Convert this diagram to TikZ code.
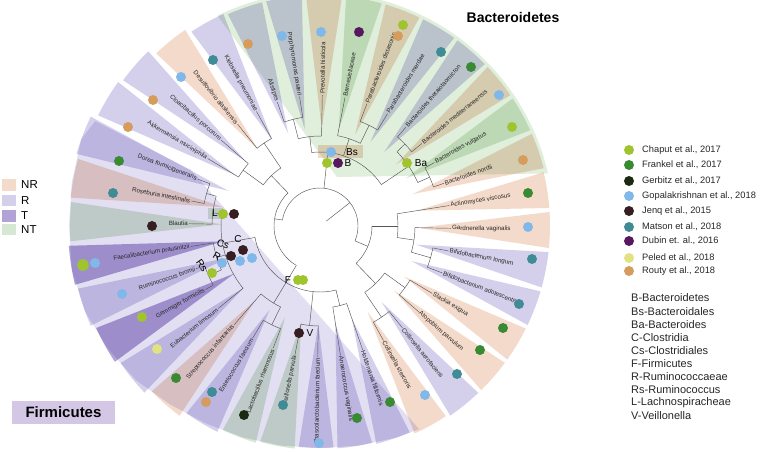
\documentclass[tikz,border=0pt]{standalone}
\usepackage{fontspec}
\setmainfont{Liberation Sans}
\definecolor{nrC}{RGB}{243,218,203}
\definecolor{rC}{RGB}{212,208,236}
\definecolor{tC}{RGB}{178,163,214}
\definecolor{ntC}{RGB}{215,232,210}
\definecolor{bgG}{RGB}{224,238,220}
\definecolor{bgF}{RGB}{226,223,242}
\definecolor{cChaput}{RGB}{160,196,45}
\definecolor{cFrankel}{RGB}{58,138,52}
\definecolor{cGerbitz}{RGB}{28,42,20}
\definecolor{cGopal}{RGB}{128,184,234}
\definecolor{cJenq}{RGB}{55,30,34}
\definecolor{cMatson}{RGB}{64,140,150}
\definecolor{cDubin}{RGB}{88,24,96}
\definecolor{cPeled}{RGB}{226,226,130}
\definecolor{cRouty}{RGB}{214,156,94}
\definecolor{firmbox}{RGB}{212,199,230}
\definecolor{treeC}{RGB}{85,85,85}
\tikzset{
  br/.style={draw=treeC, line width=0.45pt},
  lbl/.style={font=\fontsize{6.2}{7}\selectfont, text=black!85, inner sep=0pt},
  nlab/.style={font=\fontsize{10}{11}\selectfont, inner sep=0pt},
  legt/.style={font=\fontsize{9.3}{10}\selectfont, anchor=west, inner sep=0pt, text=black!85},
  abbr/.style={font=\fontsize{11}{12}\selectfont, anchor=west, inner sep=0pt, text=black!85},
}
\newcommand{\wdg}[3]{\fill[#1] (#2:98) -- ({#2-4.5}:#3) arc[start angle={#2-4.5}, end angle={#2+4.5}, radius=#3pt] -- cycle;}
\newcommand{\leafR}[4]{\draw[br] (#1:#2) -- (#1:131); \node[lbl,anchor=west,rotate=#1] (#4) at (#1:132) {#3};}
\newcommand{\leafL}[4]{\draw[br] (#1:#2) -- (#1:131); \node[lbl,anchor=east,rotate=#1-180] (#4) at (#1:132) {#3};}
\newcommand{\dt}[2]{\fill[#1] (#2) circle[radius=5pt];}
\begin{document}
\begin{tikzpicture}[x=1pt,y=1pt]
\clip (0,0) rectangle (762,451);
\useasboundingbox (0,0) rectangle (762,451);
\begin{scope}[shift={(320,225)}]
  % backgrounds and wedges
  \begin{scope}[blend mode=multiply]
    \fill[bgG] (17,49) -- (116:234) arc[start angle=116, end angle=13, radius=234pt] -- cycle;
    \fill[bgF] (-129,56) -- (155:248) -- (160:254) -- (170:252) -- (180:251) -- (190:252) -- (200:250)
      -- (210:245) -- (220:240) -- (230:233) -- (240:228) -- (250:225) -- (260:223) -- (270:222)
      -- (280:223) -- (290:225) -- (296:226) -- cycle;
    \wdg{nrC}{19}{231}
    \wdg{ntC}{29}{231}
    \wdg{nrC}{39}{231}
    \wdg{rC}{49}{231}
    \wdg{rC}{59}{231}
    \wdg{nrC}{69}{231}
    \wdg{ntC}{79}{231}
    \wdg{nrC}{89}{231}
    \wdg{rC}{99}{231}
    \wdg{rC}{109}{231}
    \wdg{rC}{119}{233}
    \wdg{nrC}{129}{238}
    \wdg{rC}{139}{245}
    \wdg{rC}{149}{248}
    \wdg{rC}{159}{254}
    \wdg{nrC}{169}{251}
    \wdg{ntC}{179}{250}
    \wdg{tC}{189}{252}
    \wdg{rC}{199}{250}
    \wdg{tC}{209}{246}
    \wdg{rC}{219}{242}
    \wdg{nrC}{229}{236}
    \wdg{rC}{239}{230}
    \wdg{ntC}{249}{226}
    \wdg{ntC}{259}{224}
    \wdg{rC}{269}{222}
    \wdg{rC}{279}{223}
    \wdg{rC}{289}{225}
    \wdg{nrC}{299}{228}
    \wdg{rC}{309}{230}
    \wdg{nrC}{319}{230}
    \wdg{nrC}{329}{230}
    \wdg{rC}{339}{230}
    \wdg{rC}{349}{230}
    \wdg{nrC}{359}{230}
    \wdg{nrC}{369}{230}
    \fill[nrC] (-2,68) rectangle (43,81);
    \fill[ntC] (-112,7) rectangle (-97,18);
  \end{scope}
  % tree
  \draw[br] (38:8) -- (38:38);
  \draw[br] (-23:38) arc[start angle=-23, end angle=171, radius=38pt];
  % Actinobacteria
  \draw[br] (-23:38) -- (-23:52);
  \draw[br] (-46:52) arc[start angle=-46, end angle=0, radius=52pt];
  \draw[br] (-46:52) -- (-46:80);
  \draw[br] (-56:80) arc[start angle=-56, end angle=-36, radius=80pt];
  \draw[br] (-56:80) -- (-56:110);
  \draw[br] (-61:110) arc[start angle=-61, end angle=-51, radius=110pt];
  \draw[br] (-36:80) -- (-36:105);
  \draw[br] (-41:105) arc[start angle=-41, end angle=-31, radius=105pt];
  \draw[br] (0:52) -- (0:78);
  \draw[br] (-8.5:78) arc[start angle=-8.5, end angle=9, radius=78pt];
  \draw[br] (-8.5:78) -- (-8.5:95);
  \draw[br] (-16:95) arc[start angle=-16, end angle=-1, radius=95pt];
  \draw[br] (-16:95) -- (-16:115);
  \draw[br] (-21:115) arc[start angle=-21, end angle=-11, radius=115pt];
  % Bacteroidetes
  \draw[br] (84:38) -- (84:74);
  \draw[br] (34:74) arc[start angle=34, end angle=96.5, radius=74pt];
  \draw[br] (34:74) -- (34:107);
  \draw[br] (24:107) arc[start angle=24, end angle=44, radius=107pt];
  \draw[br] (24:107) -- (24:120);
  \draw[br] (19:120) arc[start angle=19, end angle=29, radius=120pt];
  \draw[br] (44:107) -- (44:118);
  \draw[br] (39:118) arc[start angle=39, end angle=49, radius=118pt];
  \draw[br] (71.5:74) -- (71.5:92);
  \draw[br] (64:92) arc[start angle=64, end angle=79, radius=92pt];
  \draw[br] (64:92) -- (64:112);
  \draw[br] (59:112) arc[start angle=59, end angle=69, radius=112pt];
  \draw[br] (96.5:74) -- (96.5:90);
  \draw[br] (89:90) arc[start angle=89, end angle=104, radius=90pt];
  \draw[br] (104:90) -- (104:110);
  \draw[br] (99:110) arc[start angle=99, end angle=109, radius=110pt];
  % others
  \draw[br] (171:38) -- (171:46);
  \draw[br] (134:46) arc[start angle=134, end angle=239, radius=46pt];
  \draw[br] (134:46) -- (134:70);
  \draw[br] (124:70) arc[start angle=124, end angle=144, radius=70pt];
  \draw[br] (124:70) -- (124:100);
  \draw[br] (119:100) arc[start angle=119, end angle=129, radius=100pt];
  \draw[br] (144:70) -- (144:95);
  \draw[br] (139:95) arc[start angle=139, end angle=149, radius=95pt];
  % Firmicutes
  \draw[br] (239:46) -- (239:66);
  \draw[br] (190:66) arc[start angle=190, end angle=284, radius=66pt];
  \draw[br] (190:66) -- (190:99);
  \draw[br] (173:99) arc[start angle=173, end angle=219, radius=99pt];
  \draw[br] (173:99) -- (173:108);
  \draw[br] (164:108) arc[start angle=164, end angle=179, radius=108pt];
  \draw[br] (164:108) -- (164:118);
  \draw[br] (159:118) arc[start angle=159, end angle=169, radius=118pt];
  \draw[br] (197:99) -- (197:108);
  \draw[br] (189:108) arc[start angle=189, end angle=204, radius=108pt];
  \draw[br] (204:108) -- (204:122);
  \draw[br] (199:122) arc[start angle=199, end angle=209, radius=122pt];
  \draw[br] (239:66) -- (239:90);
  \draw[br] (229:90) arc[start angle=229, end angle=244, radius=90pt];
  \draw[br] (244:90) -- (244:110);
  \draw[br] (239:110) arc[start angle=239, end angle=249, radius=110pt];
  \draw[br] (264:66) -- (264:100);
  \draw[br] (259:100) arc[start angle=259, end angle=269, radius=100pt];
  \draw[br] (284:66) -- (284:82);
  \draw[br] (279:82) arc[start angle=279, end angle=289, radius=82pt];
  % leaves
  \leafR{19}{120}{Bacteroides nordii}{l1}
  \leafR{29}{120}{Bacteroides vulgatus}{l2}
  \leafR{39}{118}{Bacteroides mediterraneensis}{l3}
  \leafR{49}{118}{Bacteroides thetaiotaomicron}{l4}
  \leafR{59}{112}{Parabacteroides merdae}{l5}
  \leafR{69}{112}{Parabacteroides distasonis}{l6}
  \leafR{79}{92}{Barnesiellaceae}{l7}
  \leafR{89}{90}{Prevotella histicola}{l8}
  \leafL{99}{110}{Porphyromonas pasteri}{l9}
  \leafL{109}{110}{Alistipes}{l10}
  \leafL{119}{100}{Klebsiella pneumoniae}{l11}
  \leafL{129}{100}{Desulfovibrio alaskensis}{l12}
  \leafL{139}{95}{Cloacibacillus porcorum}{l13}
  \leafL{149}{95}{Akkermansia muciniphila}{l14}
  \leafL{159}{118}{Dorea formicigenerans}{l15}
  \leafL{169}{118}{Roseburia intestinalis}{l16}
  \leafL{179}{108}{Blautia}{l17}
  \leafL{189}{108}{Faecalibacterium prausnitzii}{l18}
  \leafL{199}{122}{Ruminococcus bromii}{l19}
  \leafL{209}{122}{Gemmiger formicilis}{l20}
  \leafL{219}{99}{Eubacterium limosum}{l21}
  \leafL{229}{90}{Streptococcus infantarius}{l22}
  \leafL{239}{110}{Enterococcus faecium}{l23}
  \leafL{249}{110}{Lactobacillus rhamnosus}{l24}
  \leafL{259}{100}{Veillonella parvula}{l25}
  \leafL{269}{100}{Phascolarctobacterium faecium}{l26}
  \leafR{279}{82}{Anaerococcus vaginalis}{l27}
  \leafR{289}{82}{Holdemania filiformis}{l28}
  \leafR{-61}{110}{Collinsella stercoris}{l29}
  \leafR{-51}{110}{Collinsella aerofaciens}{l30}
  \leafR{-41}{105}{Atopobium parvulum}{l31}
  \leafR{-31}{105}{Slackia exigua}{l32}
  \leafR{-21}{115}{Bifidobacterium adolescentis}{l33}
  \leafR{-11}{115}{Bifidobacterium longum}{l34}
  \leafR{-1}{95}{Gardnerella vaginalis}{l35}
  \leafR{9}{78}{Actinomyces viscosus}{l36}
  % leaf dots
  \dt{cRouty}{203,66}
  \dt{cChaput}{192,99}
  \dt{cGopal}{179,131}
  \dt{cFrankel}{151,159}
  \dt{cMatson}{121,174}
  \dt{cChaput}{83,201}
  \dt{cRouty}{78,190}
  \dt{cDubin}{39,194}
  \dt{cGopal}{1,194}
  \dt{cGopal}{-38,190}
  \dt{cRouty}{-72,182}
  \dt{cMatson}{-107,166}
  \dt{cGopal}{-139,149}
  \dt{cRouty}{-167,126}
  \dt{cRouty}{-192,99}
  \dt{cFrankel}{-201,65}
  \dt{cMatson}{-207,33}
  \dt{cJenq}{-168,0}
  \fill[cChaput] (-237,-39) circle[radius=5.8pt];
  \dt{cGopal}{-225,-37}
  \dt{cGopal}{-198,-68}
  \dt{cChaput}{-178,-91}
  \dt{cPeled}{-163,-123}
  \dt{cFrankel}{-144,-152}
  \dt{cMatson}{-108,-166}
  \dt{cRouty}{-114,-176}
  \dt{cGerbitz}{-76,-189}
  \dt{cMatson}{-37,-179}
  \dt{cGopal}{-1,-217}
  \dt{cFrankel}{37,-192}
  \dt{cFrankel}{70,-176}
  \dt{cGopal}{105,-169}
  \dt{cMatson}{137,-148}
  \dt{cFrankel}{160,-124}
  \dt{cFrankel}{183,-102}
  \dt{cMatson}{199,-78}
  \dt{cMatson}{212,-33}
  \dt{cGopal}{208,-1}
  \dt{cFrankel}{208,33}
  % internal node marks
  \dt{cChaput}{7,63}
  \dt{cDubin}{18,63}
  \node[nlab] (nB) at (28,63) {B};
  \dt{cGopal}{11,74}
  \node[nlab] (nBs) at (32,74) {Bs};
  \dt{cChaput}{87,63}
  \node[nlab] (nBa) at (101,63) {Ba};
  \node[nlab] (nL) at (-105,13) {L};
  \dt{cChaput}{-97,12}
  \dt{cJenq}{-86,12}
  \node[nlab] (nC) at (-82,-13) {C};
  \dt{cJenq}{-77,-24}
  \dt{cGopal}{-68,-32}
  \node[nlab,rotate=-20] (nCs) at (-97,-18) {Cs};
  \dt{cJenq}{-89,-30}
  \dt{cGopal}{-80,-35}
  \node[nlab,rotate=-30] (nR) at (-103,-30) {R};
  \dt{cGopal}{-98,-37}
  \node[nlab,rotate=-55] (nRs) at (-118,-40) {Rs};
  \dt{cChaput}{-108,-47}
  \node[nlab] (nF) at (-32,-54) {F};
  \dt{cChaput}{-22,-54}
  \dt{cChaput}{-17,-54}
  \dt{cJenq}{-21,-107}
  \node[nlab] (nV) at (-10,-107) {V};
\end{scope}
% titles
\node[font=\bfseries\fontsize{14}{16}\selectfont] (tB) at (513,434) {Bacteroidetes};
\fill[firmbox] (12,27) rectangle (115,50);
\node[font=\bfseries\fontsize{15}{17}\selectfont] (tF) at (63.5,38.5) {Firmicutes};
% left legend
\fill[nrC] (2,260) rectangle (16,272);
\fill[rC] (2,245) rectangle (16,256);
\fill[tC] (2,229) rectangle (16,241);
\fill[ntC] (2,216) rectangle (16,227);
\node[font=\fontsize{11.5}{12}\selectfont,anchor=west,inner sep=0pt] (kNR) at (21,266) {NR};
\node[font=\fontsize{11.5}{12}\selectfont,anchor=west,inner sep=0pt] (kR) at (21,250.5) {R};
\node[font=\fontsize{11.5}{12}\selectfont,anchor=west,inner sep=0pt] (kT) at (21,235) {T};
\node[font=\fontsize{11.5}{12}\selectfont,anchor=west,inner sep=0pt] (kNT) at (21,221.5) {NT};
% study legend
\fill[cChaput] (629,301) circle[radius=5pt];
\fill[cFrankel] (629,286) circle[radius=5pt];
\fill[cGerbitz] (629,270) circle[radius=5pt];
\fill[cGopal] (629,255) circle[radius=5pt];
\fill[cJenq] (629,240) circle[radius=5pt];
\fill[cMatson] (629,224) circle[radius=5pt];
\fill[cDubin] (629,210) circle[radius=5pt];
\fill[cPeled] (629,193) circle[radius=5pt];
\fill[cRouty] (629,180) circle[radius=5pt];
\node[legt] (s1) at (642,301) {Chaput et al., 2017};
\node[legt] (s2) at (642,286) {Frankel et al., 2017};
\node[legt] (s3) at (642,270) {Gerbitz et al., 2017};
\node[legt] (s4) at (642,255) {Gopalakrishnan et al., 2018};
\node[legt] (s5) at (642,240) {Jenq et al., 2015};
\node[legt] (s6) at (642,224) {Matson et al., 2018};
\node[legt] (s7) at (642,210) {Dubin et. al., 2016};
\node[legt] (s8) at (642,193) {Peled et al., 2018};
\node[legt] (s9) at (642,180) {Routy et al., 2018};
% abbreviations
\node[abbr] (a1) at (631,153) {B-Bacteroidetes};
\node[abbr] (a2) at (631,139.5) {Bs-Bacteroidales};
\node[abbr] (a3) at (631,126) {Ba-Bacteroides};
\node[abbr] (a4) at (631,113) {C-Clostridia};
\node[abbr] (a5) at (631,100) {Cs-Clostridiales};
\node[abbr] (a6) at (631,87) {F-Firmicutes};
\node[abbr] (a7) at (631,74) {R-Ruminococcaeae};
\node[abbr] (a8) at (631,61) {Rs-Ruminococcus};
\node[abbr] (a9) at (631,48) {L-Lachnospiracheae};
\node[abbr] (a10) at (631,35) {V-Veillonella};
\end{tikzpicture}
\end{document}
